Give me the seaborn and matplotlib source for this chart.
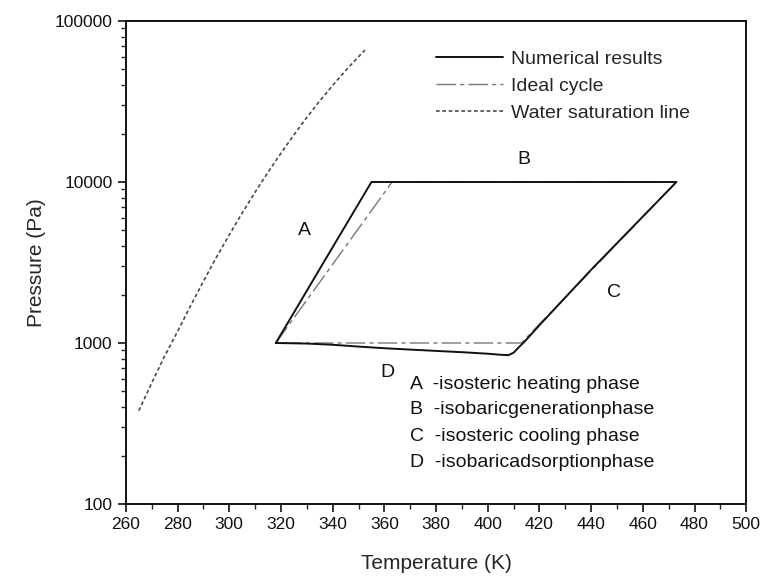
import matplotlib
matplotlib.use("Agg")
import matplotlib.pyplot as plt
import seaborn as sns
import pandas as pd
from matplotlib.lines import Line2D
from matplotlib.ticker import MultipleLocator, LogLocator, NullFormatter, FixedLocator

# Numerical adsorption cycle (closed loop A -> B -> C -> D)
num_T = [318, 327, 336, 346, 355, 473, 440, 420, 414, 412, 410, 408, 405, 400,
         390, 380, 370, 360, 350, 340, 330, 318]
num_P = [1000, 1750, 3070, 5710, 10000, 10000, 2850, 1290, 1010, 940, 870, 840,
         845, 858, 877, 893, 910, 928, 950, 975, 992, 1000]

# Ideal cycle corners
ideal_T = [318, 363, 473, 413, 318]
ideal_P = [1000, 10000, 10000, 1000, 1000]

# Water saturation line
sat_T = [265, 270, 275, 280, 285, 290, 295, 300, 305, 310, 315, 320, 325,
         330, 335, 340, 345, 350, 352.5]
sat_P = [380, 565, 830, 1180, 1700, 2420, 3400, 4700, 6420, 8650, 11500, 15100,
         19600, 25200, 31900, 39800, 49200, 60000, 66000]

x_ticks = list(range(260, 501, 20))
y_ticks = [100, 1000, 10000, 100000]
y_labels = ["100", "1000", "10000", "100000"]

phase_letters = ["A", "B", "C", "D"]
phase_letter_T = [329, 414, 449, 361]
phase_letter_P = [5000, 13800, 2070, 660]
phase_notes = ["A  -isosteric heating phase",
               "B  -isobaricgenerationphase",
               "C  -isosteric cooling phase",
               "D  -isobaricadsorptionphase"]
note_P = [556, 384, 264, 182]

sns.set_style("ticks")
plt.rcParams["font.family"] = ["Liberation Sans", "DejaVu Sans"]

fig = plt.figure(figsize=(7.63, 5.83), dpi=100)
ax = fig.add_axes([0.165, 0.1355, 0.813, 0.8285])

num_df = pd.DataFrame({"T": num_T, "P": num_P})
ideal_df = pd.DataFrame({"T": ideal_T, "P": ideal_P})
sat_df = pd.DataFrame({"T": sat_T, "P": sat_P})

ideal_ls = (0, (14, 3, 3, 3))
sat_ls = (0, (2.2, 1.6))

sns.lineplot(data=sat_df, x="T", y="P", sort=False, estimator=None, ax=ax,
             color="#4a4a4a", lw=1.2, linestyle=sat_ls)
sns.lineplot(data=ideal_df, x="T", y="P", sort=False, estimator=None, ax=ax,
             color="#777777", lw=1.0, linestyle=ideal_ls)
sns.lineplot(data=num_df, x="T", y="P", sort=False, estimator=None, ax=ax,
             color="#111111", lw=1.4)

ax.set_yscale("log")
ax.set_xlim(260, 500)
ax.set_ylim(100, 100000)

ax.xaxis.set_major_locator(FixedLocator(x_ticks))
ax.xaxis.set_minor_locator(MultipleLocator(10))
ax.yaxis.set_major_locator(FixedLocator(y_ticks))
ax.set_yticklabels(y_labels)
ax.yaxis.set_minor_locator(LogLocator(base=10, subs=range(2, 10)))
ax.yaxis.set_minor_formatter(NullFormatter())

ax.tick_params(which="major", direction="out", length=6, width=1.2,
               labelsize=12.5, colors="#111111", top=False, right=False)
ax.tick_params(which="minor", direction="out", length=3.5, width=1.0,
               top=False, right=False)
for s in ax.spines.values():
    s.set_linewidth(1.4)
    s.set_color("#111111")
    s.set_visible(True)

ax.set_xlabel("Temperature (K)", fontsize=15, labelpad=16)
ax.set_ylabel("Pressure (Pa)", fontsize=15, labelpad=6)

for letter, t, p in zip(phase_letters, phase_letter_T, phase_letter_P):
    ax.text(t, p, letter, fontsize=14, ha="center", va="center", color="#111111")

for note, p in zip(phase_notes, note_P):
    ax.text(370, p, note, fontsize=14, ha="left", va="center", color="#111111")

handles = [
    Line2D([], [], color="#111111", lw=1.4),
    Line2D([], [], color="#777777", lw=1.0, linestyle=ideal_ls),
    Line2D([], [], color="#4a4a4a", lw=1.2, linestyle=sat_ls),
]
ax.legend(handles, ["Numerical results", "Ideal cycle", "Water saturation line"],
          loc="upper left", bbox_to_anchor=(0.487, 0.955), frameon=False,
          fontsize=14, handlelength=3.45, handletextpad=0.4, labelspacing=0.48,
          borderaxespad=0)

fig.savefig("out.png", dpi=100)
